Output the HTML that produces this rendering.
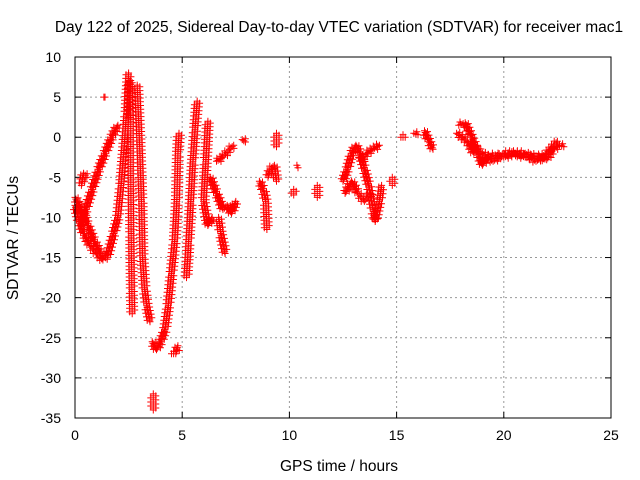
<!DOCTYPE html>
<html><head><meta charset="utf-8"><style>
body{margin:0;background:#fff}
svg{display:block;font-family:"Liberation Sans",sans-serif}
</style></head><body>
<svg id="c" width="640" height="480">
<rect width="640" height="480" fill="#fff"/>
<g id="grid"></g>
<g id="axes"></g>
<g id="marks"></g>
<rect x="75" y="57" width="536" height="361" fill="none" stroke="#000" stroke-width="1"/>
<text x="339" y="32" font-size="15.5" text-anchor="middle">Day 122 of 2025, Sidereal Day-to-day VTEC variation (SDTVAR) for receiver mac1</text>
<text x="339" y="471" font-size="15.5" text-anchor="middle">GPS time / hours</text>
<text x="18" y="238" font-size="15.5" text-anchor="middle" transform="rotate(-90 18 238)">SDTVAR / TECUs</text>
</svg>
<script>
const xTicks=[0,5,10,15,20,25];
const yTicks=[10,5,0,-5,-10,-15,-20,-25,-30,-35];
const tracks=[
[[0,-7.5],[0.3,-9],[0.6,-11],[0.9,-13],[1.2,-14.5],[1.5,-15.2]],
[[0,-8.5],[0.2,-10.5],[0.4,-12],[0.7,-13.5],[1.0,-14.5],[1.3,-15.3]],
[[0.3,-11],[0.5,-9],[0.8,-6.5],[1.1,-4],[1.4,-2],[1.7,0],[2.0,1.5]],
[[0.3,-6],[0.4,-4.5],[0.55,-5]],
[[1.5,-15],[1.8,-12],[2.0,-10],[2.15,-6],[2.3,-1],[2.4,3],[2.5,8]],
[[2.55,7],[2.6,2],[2.6,-5],[2.62,-12],[2.65,-19],[2.67,-22]],
[[2.9,6.5],[3.0,0],[3.1,-8],[3.15,-15],[3.25,-19],[3.35,-21],[3.5,-23]],
[[3.6,-25.5],[3.8,-26.5],[4.0,-25.5],[4.2,-24],[4.35,-21],[4.5,-17],[4.65,-13],[4.75,-8],[4.8,-2],[4.85,0.5]],
[[4.5,-27],[4.7,-27],[4.8,-26]],
[[3.65,-32],[3.65,-34]],
[[1.35,5],[1.4,5]],
[[5.2,-17.5],[5.3,-13],[5.4,-8],[5.5,-3],[5.6,1],[5.7,4.5]],
[[6.2,2],[6.1,-3],[6.0,-8],[6.2,-11],[6.4,-10]],
[[6.3,-5],[6.6,-7],[6.9,-9],[7.1,-8.5],[7.3,-9.5],[7.5,-8]],
[[6.6,-3],[6.9,-2.5],[7.2,-1.5],[7.4,-1]],
[[6.7,-10],[6.8,-12],[7.0,-14.5]],
[[7.8,-0.3],[7.95,-0.6]],
[[8.6,-5.5],[8.8,-6.6],[8.9,-8],[8.95,-11.5]],
[[9.0,-5],[9.1,-4],[9.3,-3.5],[9.4,-5.5]],
[[9.4,0.5],[9.4,-1.2]],
[[10.35,-3.5],[10.4,-3.8]],
[[10.2,-6.5],[10.2,-7.2]],
[[11.3,-6],[11.3,-7.5]],
[[12.5,-5.5],[12.7,-4],[12.9,-2],[13.1,-1],[13.3,-2],[13.5,-4],[13.7,-6],[13.9,-9],[14.0,-10.5],[14.2,-8],[14.3,-6]],
[[12.6,-7],[12.9,-5.5],[13.2,-7],[13.5,-8],[13.8,-7]],
[[13.3,-3],[13.6,-2],[13.9,-1.5],[14.2,-1]],
[[14.8,-5],[14.8,-6]],
[[15.2,0],[15.4,0]],
[[15.8,0.5],[16.0,0.3]],
[[16.3,0.8],[16.5,-0.5],[16.7,-1.5]],
[[17.9,1.5],[18.2,1.8],[18.5,0],[18.8,-2],[19.0,-3.5],[19.2,-2.5],[19.6,-2.2],[20,-2.5],[20.5,-2],[21,-2.5],[21.5,-2.3],[22,-2.8],[22.3,-1.5],[22.6,-1],[22.8,-1.2]],
[[18.5,-1],[19,-2],[19.5,-3],[20,-2],[21,-2],[21.5,-3],[22,-2],[22.5,-0.5]],
[[17.8,0.5],[18.3,-0.5],[18.6,-2]]
];
const NS="http://www.w3.org/2000/svg";
const X0=75,X1=611,Y0=418,Y1=57;
function sx(v){return X0+(v-0)/(25-0)*(X1-X0);}
function sy(v){return Y0-(v-(-35))/(10-(-35))*(Y0-Y1);}
function mk(tag,attrs,parent){const e=document.createElementNS(NS,tag);for(const k in attrs)e.setAttribute(k,attrs[k]);parent.appendChild(e);return e;}
const grid=document.getElementById('grid'),axes=document.getElementById('axes'),marks=document.getElementById('marks');
xTicks.forEach(t=>{const x=sx(t);
 if(t>0&&t<25){const g=mk('line',{x1:x,x2:x,y1:Y0,y2:Y1,stroke:'#999','stroke-dasharray':'2,3'},grid);
 
 }
 mk('line',{x1:x,x2:x,y1:Y0,y2:Y0-6,stroke:'#000'},axes);
 mk('line',{x1:x,x2:x,y1:Y1,y2:Y1+6,stroke:'#000'},axes);
 const tx=mk('text',{x:x,y:Y0+22,'font-size':14,'text-anchor':'middle'},axes);tx.textContent=t;
 
 
});
yTicks.forEach(t=>{const y=sy(t);
 if(t<10&&t>-35){const g=mk('line',{x1:X0,x2:X1,y1:y,y2:y,stroke:'#999','stroke-dasharray':'2,3'},grid);
 
 }
 mk('line',{x1:X0,x2:X0+6,y1:y,y2:y,stroke:'#000'},axes);
 mk('line',{x1:X1,x2:X1-6,y1:y,y2:y,stroke:'#000'},axes);
 const tx=mk('text',{x:X0-14,y:y+5,'font-size':14,'text-anchor':'end'},axes);tx.textContent=t;
 
 
});
let d='';
function plus(px,py){d+=`M${(px-3.5).toFixed(1)},${py.toFixed(1)}h7M${px.toFixed(1)},${(py-3.5).toFixed(1)}v7`;}
tracks.forEach(tr=>{
 for(let i=0;i<tr.length;i++){
  const ax=sx(tr[i][0]),ay=sy(tr[i][1]);
  plus(ax,ay);
  if(i+1<tr.length){const bx=sx(tr[i+1][0]),by=sy(tr[i+1][1]);
   const L=Math.hypot(bx-ax,by-ay),n=Math.max(1,Math.floor(L/1.8));
   const nx=-(by-ay)/(L||1),ny=(bx-ax)/(L||1);
   for(let k=1;k<n;k++){const px=ax+(bx-ax)*k/n,py=ay+(by-ay)*k/n;
    plus(px,py);
    if(k%2==0){plus(px+nx*2.5,py+ny*2.5);}else{plus(px-nx*2.5,py-ny*2.5);}
   }
  }
 }
});
const p=mk('path',{d:d,stroke:'#ff0000','stroke-width':1,fill:'none'},marks);


</script>
</body></html>
